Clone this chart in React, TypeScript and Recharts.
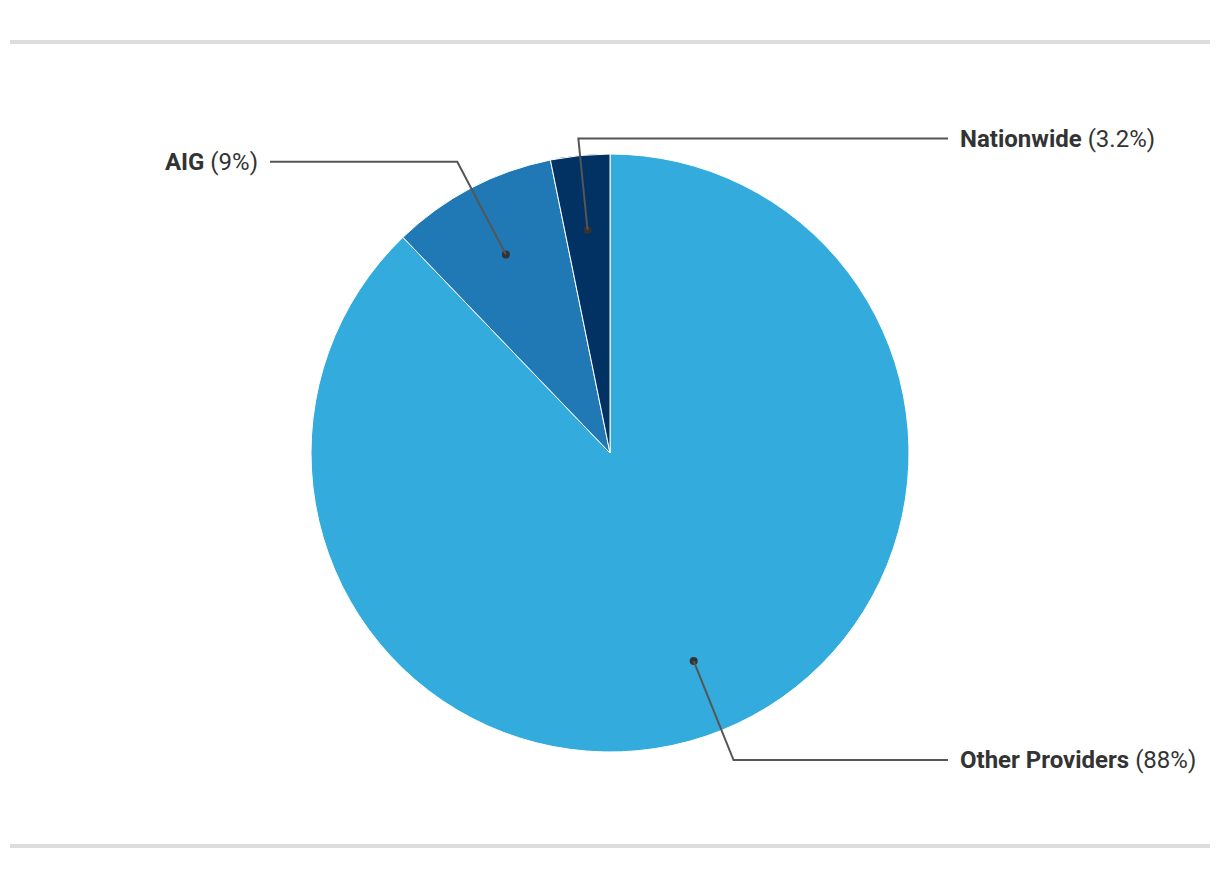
import React from "react";
import { PieChart, Pie, Cell } from "recharts";

const categories = ["Other Providers", "AIG", "Nationwide"];
const values = [88, 9, 3.2];
const valueLabels = ["88%", "9%", "3.2%"];
const colors = ["#33abdc", "#2078b4", "#023263"];

const data = categories.map((name, i) => ({ name, value: values[i], display: valueLabels[i] }));

const RAD = Math.PI / 180;
const elbowFactor = [1.107, 1.1, 1.057];

const renderLabel = (props: any) => {
  const { cx, cy, midAngle, outerRadius, index } = props;
  const cos = Math.cos(-midAngle * RAD);
  const sin = Math.sin(-midAngle * RAD);
  const dx = cx + outerRadius * 0.75 * cos;
  const dy = cy + outerRadius * 0.75 * sin;
  const er = outerRadius * elbowFactor[index];
  const ex = cx + er * cos;
  const ey = cy + er * sin;
  const right = cos >= 0 || index === 2;
  const lineEnd = right ? cx + 338 : cx - 340;
  const textX = right ? cx + 350 : cx - 352;
  const d = data[index];
  return (
    <g>
      <circle cx={dx} cy={dy} r={4} fill="#333" />
      <polyline
        points={`${dx},${dy} ${ex},${ey} ${lineEnd},${ey}`}
        fill="none"
        stroke="#555"
        strokeWidth={2}
      />
      <text
        x={textX}
        y={ey}
        textAnchor={right ? "start" : "end"}
        dominantBaseline="central"
        fontFamily="Roboto"
        fontSize={24}
        fill="#333"
      >
        <tspan fontWeight="bold">{d.name}</tspan>
        <tspan fontWeight="normal">{` (${d.display})`}</tspan>
      </text>
    </g>
  );
};

export default function App() {
  return (
    <div style={{ position: "absolute", left: 0, top: 0, width: 1220, height: 878, background: "#fff" }}>
      <div style={{ position: "absolute", left: 10, top: 40, width: 1200, height: 4, background: "#dddddd" }} />
      <div style={{ position: "absolute", left: 10, top: 844, width: 1200, height: 4, background: "#dddddd" }} />
      <div style={{ position: "absolute", left: 0, top: 0 }}>
        <PieChart width={1220} height={878} margin={{ top: 0, right: 0, bottom: 0, left: 0 }}>
          <Pie
            data={data}
            dataKey="value"
            nameKey="name"
            cx={610}
            cy={453}
            outerRadius={299}
            startAngle={90}
            endAngle={-270}
            stroke="#ffffff"
            strokeWidth={1}
            label={renderLabel}
            labelLine={false}
            isAnimationActive={false}
          >
            {data.map((_, i) => (
              <Cell key={i} fill={colors[i]} />
            ))}
          </Pie>
        </PieChart>
      </div>
    </div>
  );
}
